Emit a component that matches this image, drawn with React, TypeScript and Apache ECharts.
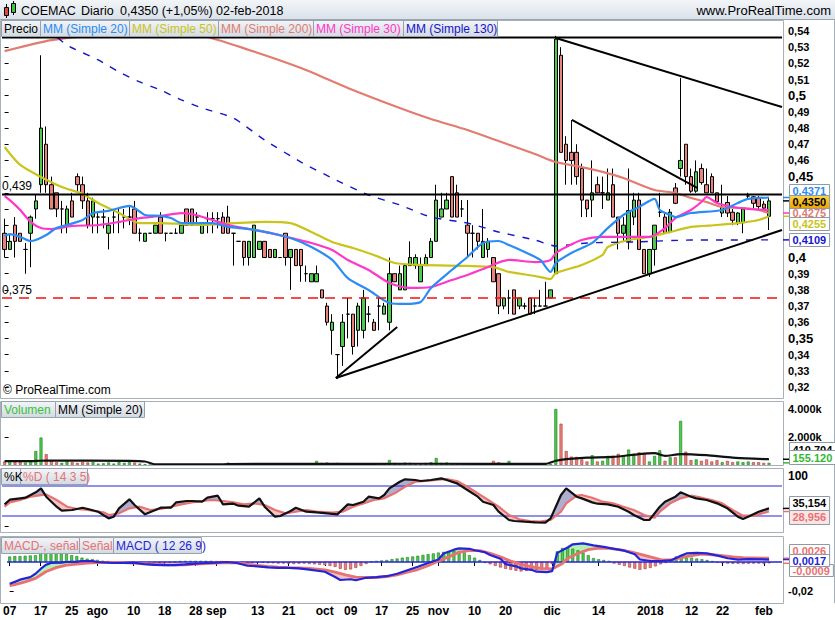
import React, { useEffect, useRef } from "react";
import * as echarts from "echarts";

const FONT = "'Liberation Sans', Arial, Helvetica, sans-serif";

// ---------- categories ----------
const FIRST_DAY = "2017-07-07";
const LAST_DAY = "2018-02-02";
const HOLIDAYS = ["2017-12-25", "2017-12-26", "2018-01-01"];
const EMPTY_SLOTS = 2;

const xTickDates = ["2017-07-07", "2017-07-17", "2017-07-25", "2017-08-01", "2017-08-10", "2017-08-18", "2017-08-28", "2017-09-01", "2017-09-13", "2017-09-21", "2017-10-02", "2017-10-09", "2017-10-17", "2017-10-25", "2017-11-01", "2017-11-10", "2017-11-20", "2017-12-01", "2017-12-14", "2018-01-02", "2018-01-12", "2018-01-22", "2018-02-01"];
const xTickLabels = ["07", "17", "25", "ago", "10", "18", "28", "sep", "13", "21", "oct", "09", "17", "25", "nov", "10", "20", "dic", "14", "2018", "12", "22", "feb"];

const priceTicks = [0.32, 0.33, 0.34, 0.35, 0.36, 0.37, 0.38, 0.39, 0.4, 0.41, 0.42, 0.43, 0.44, 0.45, 0.46, 0.47, 0.48, 0.49, 0.5, 0.51, 0.52, 0.53, 0.54];
const volumeTicks = [2000, 4000];
const stochTicks = [0, 100];
const macdTicks = [-0.02];

// ---------- price (open, high, low, close) ----------
const ohlc = [
  [0.415, 0.424, 0.4, 0.405], [0.405, 0.414, 0.405, 0.41], [0.42, 0.425, 0.4, 0.41], [0.415, 0.415, 0.41, 0.41], [0.405, 0.409, 0.39, 0.405],
  [0.415, 0.426, 0.394, 0.425], [0.43, 0.439, 0.424, 0.435], [0.445, 0.525, 0.44, 0.48], [0.47, 0.481, 0.44, 0.445], [0.445, 0.45, 0.43, 0.43],
  [0.44, 0.44, 0.425, 0.43], [0.43, 0.435, 0.415, 0.43], [0.42, 0.432, 0.415, 0.43], [0.435, 0.44, 0.425, 0.425], [0.45, 0.452, 0.44, 0.445],
  [0.445, 0.45, 0.43, 0.435], [0.435, 0.44, 0.418, 0.42], [0.425, 0.437, 0.415, 0.435], [0.425, 0.428, 0.415, 0.425], [0.425, 0.43, 0.418, 0.425],
  [0.415, 0.425, 0.405, 0.42], [0.425, 0.43, 0.415, 0.425], [0.422, 0.43, 0.415, 0.422], [0.425, 0.43, 0.418, 0.425], [0.425, 0.432, 0.42, 0.425],
  [0.43, 0.435, 0.415, 0.415], [0.415, 0.418, 0.41, 0.415], [0.41, 0.415, 0.41, 0.415], [0.415, 0.415, 0.415, 0.415], [0.415, 0.42, 0.415, 0.42],
  [0.425, 0.428, 0.415, 0.415], [0.415, 0.415, 0.41, 0.415], [0.415, 0.415, 0.415, 0.415], [0.415, 0.418, 0.415, 0.415], [0.415, 0.42, 0.415, 0.42],
  [0.43, 0.43, 0.42, 0.42], [0.43, 0.43, 0.42, 0.42], [0.425, 0.428, 0.42, 0.425], [0.415, 0.42, 0.415, 0.42], [0.424, 0.428, 0.415, 0.424],
  [0.424, 0.428, 0.415, 0.424], [0.424, 0.428, 0.418, 0.424], [0.425, 0.428, 0.415, 0.415], [0.425, 0.432, 0.415, 0.415], [0.415, 0.415, 0.395, 0.415],
  [0.41, 0.41, 0.41, 0.41], [0.41, 0.41, 0.395, 0.4], [0.4, 0.41, 0.395, 0.41], [0.4, 0.42, 0.4, 0.42], [0.405, 0.41, 0.405, 0.41],
  [0.41, 0.41, 0.4, 0.4], [0.405, 0.405, 0.4, 0.4], [0.4, 0.405, 0.4, 0.405], [0.4, 0.4, 0.4, 0.4], [0.415, 0.415, 0.395, 0.4],
  [0.4, 0.405, 0.38, 0.405], [0.405, 0.405, 0.395, 0.395], [0.405, 0.405, 0.385, 0.395], [0.39, 0.395, 0.385, 0.39], [0.385, 0.39, 0.385, 0.39],
  [0.385, 0.395, 0.385, 0.39], [0.38, 0.38, 0.375, 0.375], [0.37, 0.372, 0.358, 0.36], [0.355, 0.365, 0.34, 0.36], [0.34, 0.34, 0.325, 0.34],
  [0.345, 0.365, 0.333, 0.36], [0.365, 0.375, 0.35, 0.365], [0.365, 0.365, 0.34, 0.345], [0.355, 0.372, 0.345, 0.37], [0.355, 0.38, 0.35, 0.375],
  [0.365, 0.37, 0.36, 0.365], [0.36, 0.362, 0.355, 0.355], [0.37, 0.375, 0.355, 0.37], [0.365, 0.372, 0.365, 0.37], [0.36, 0.4, 0.355, 0.39],
  [0.39, 0.39, 0.385, 0.385], [0.38, 0.395, 0.38, 0.39], [0.38, 0.396, 0.38, 0.395], [0.395, 0.41, 0.395, 0.4], [0.395, 0.402, 0.393, 0.4],
  [0.385, 0.4, 0.385, 0.395], [0.395, 0.402, 0.395, 0.4], [0.4, 0.412, 0.4, 0.41], [0.41, 0.445, 0.41, 0.4355], [0.425, 0.44, 0.425, 0.43],
  [0.43, 0.44, 0.43, 0.4355], [0.45, 0.45, 0.425, 0.425], [0.44, 0.445, 0.425, 0.425], [0.43, 0.4355, 0.425, 0.43], [0.42, 0.4355, 0.4, 0.415],
  [0.415, 0.42, 0.4, 0.415], [0.415, 0.415, 0.405, 0.41], [0.4, 0.43, 0.4, 0.41], [0.405, 0.412, 0.4, 0.41], [0.4, 0.4, 0.385, 0.385],
  [0.39, 0.39, 0.365, 0.37], [0.37, 0.375, 0.368, 0.375], [0.375, 0.38, 0.365, 0.375], [0.38, 0.38, 0.365, 0.365], [0.37, 0.375, 0.368, 0.375],
  [0.37, 0.372, 0.368, 0.37], [0.375, 0.375, 0.365, 0.365], [0.37, 0.375, 0.365, 0.37], [0.37, 0.38, 0.37, 0.37], [0.37, 0.385, 0.37, 0.37],
  [0.375, 0.38, 0.375, 0.38], [0.39, 0.537, 0.39, 0.535], [0.525, 0.53, 0.465, 0.465], [0.47, 0.475, 0.445, 0.46], [0.465, 0.485, 0.445, 0.46],
  [0.465, 0.47, 0.445, 0.45], [0.455, 0.458, 0.425, 0.4355], [0.4355, 0.4355, 0.425, 0.43], [0.4355, 0.46, 0.425, 0.44], [0.445, 0.45, 0.44, 0.44],
  [0.44, 0.45, 0.43, 0.44], [0.4355, 0.455, 0.4355, 0.44], [0.445, 0.455, 0.425, 0.425], [0.425, 0.425, 0.405, 0.415], [0.415, 0.425, 0.41, 0.42],
  [0.41, 0.455, 0.405, 0.429], [0.425, 0.44, 0.42, 0.4355], [0.4355, 0.44, 0.405, 0.405], [0.405, 0.405, 0.39, 0.39], [0.39, 0.405, 0.388, 0.405],
  [0.405, 0.42, 0.395, 0.42], [0.428, 0.44, 0.425, 0.428], [0.425, 0.428, 0.415, 0.415], [0.416, 0.43, 0.415, 0.428], [0.443, 0.446, 0.433, 0.4335],
  [0.455, 0.511, 0.45, 0.46], [0.47, 0.47, 0.445, 0.45], [0.45, 0.455, 0.44, 0.441], [0.441, 0.46, 0.44, 0.453], [0.455, 0.458, 0.445, 0.4463],
  [0.445, 0.455, 0.44, 0.44], [0.45, 0.452, 0.44, 0.44], [0.44, 0.44, 0.4345, 0.4345], [0.4275, 0.445, 0.425, 0.431], [0.434, 0.438, 0.425, 0.4275],
  [0.428, 0.43, 0.42, 0.423], [0.4215, 0.428, 0.42, 0.4275], [0.4215, 0.43, 0.415, 0.43], [0.438, 0.44, 0.436, 0.438], [0.4375, 0.438, 0.43, 0.4335],
  [0.4365, 0.438, 0.43, 0.4315], [0.433, 0.435, 0.43, 0.4305], [0.4255, 0.437, 0.417, 0.435],
];

// moving averages: [bar index, price]
const ma20 = [[0, 0.4133], [1, 0.4145], [3, 0.4127], [5, 0.4102], [6, 0.4108], [8, 0.4139], [10, 0.4182], [12, 0.4201], [15, 0.4232], [17, 0.4275], [20, 0.4288], [22, 0.4306], [24, 0.4319], [25, 0.4306], [27, 0.4263], [30, 0.4257], [32, 0.4244], [34, 0.4213], [38, 0.4213], [40, 0.4213], [43, 0.4189], [47, 0.4176], [51, 0.4152], [55, 0.4121], [59, 0.4065], [63, 0.3985], [66, 0.3873], [70, 0.3799], [74, 0.3719], [77, 0.3713], [80, 0.3725], [82, 0.3812], [86, 0.3923], [89, 0.4003], [92, 0.409], [95, 0.4102], [97, 0.4077], [100, 0.4034], [103, 0.3985], [105, 0.3911], [106, 0.3966], [109, 0.4028], [113, 0.409], [116, 0.4182], [119, 0.4263], [122, 0.4312], [125, 0.4362], [126, 0.4294], [128, 0.4263], [129, 0.425], [132, 0.4275], [138, 0.4294], [141, 0.4337], [143, 0.4362], [147, 0.4371]];
const ma50 = [[0, 0.4683], [3, 0.4572], [7, 0.4498], [11, 0.4436], [15, 0.4393], [18, 0.4337], [22, 0.4275], [26, 0.4213], [30, 0.4213], [34, 0.4207], [38, 0.4201], [44, 0.4213], [50, 0.422], [55, 0.4213], [59, 0.4158], [63, 0.4096], [67, 0.4059], [71, 0.4016], [75, 0.3966], [80, 0.3954], [89, 0.3948], [94, 0.3941], [97, 0.3911], [102, 0.3886], [105, 0.3867], [106, 0.3904], [111, 0.3954], [115, 0.4016], [116, 0.4065], [120, 0.4108], [124, 0.4127], [128, 0.4158], [132, 0.4189], [137, 0.4201], [141, 0.4213], [145, 0.4232], [147, 0.4255]];
const ma200 = [[0, 0.5276], [9, 0.5344], [18, 0.5375], [28, 0.5388], [38, 0.5369], [47, 0.5283], [57, 0.5171], [66, 0.5048], [76, 0.4924], [82, 0.4856], [89, 0.4788], [95, 0.472], [102, 0.464], [106, 0.459], [111, 0.4559], [115, 0.4529], [119, 0.4491], [125, 0.4417], [129, 0.4399], [132, 0.4368], [135, 0.4343], [138, 0.4312], [142, 0.4306], [145, 0.4294], [147, 0.4275]];
const ma30 = [[0, 0.438], [1, 0.4355], [3, 0.4294], [5, 0.422], [7, 0.4182], [9, 0.4176], [13, 0.4195], [18, 0.4201], [22, 0.422], [26, 0.4244], [30, 0.4257], [34, 0.4275], [36, 0.4269], [40, 0.4232], [43, 0.4201], [47, 0.4176], [51, 0.4152], [55, 0.4121], [59, 0.409], [63, 0.4047], [66, 0.3985], [70, 0.3923], [74, 0.3843], [78, 0.3812], [82, 0.3818], [86, 0.3861], [89, 0.3892], [92, 0.3929], [97, 0.3985], [102, 0.3972], [105, 0.3985], [106, 0.4028], [108, 0.4065], [111, 0.4108], [115, 0.4127], [124, 0.4127], [127, 0.4182], [129, 0.4244], [132, 0.4294], [134, 0.4343], [135, 0.4374], [137, 0.4337], [140, 0.4312], [143, 0.43], [147, 0.4294]];
const ma130 = [[8, 0.5419], [12, 0.5313], [18, 0.5221], [22, 0.5147], [26, 0.5085], [30, 0.5035], [34, 0.4974], [38, 0.4924], [44, 0.4862], [50, 0.4726], [57, 0.459], [63, 0.4491], [70, 0.4386], [76, 0.4325], [82, 0.425], [89, 0.4213], [95, 0.4158], [102, 0.4108], [106, 0.4071], [112, 0.409], [121, 0.4096], [132, 0.4108], [138, 0.4108], [147, 0.4109]];

// drawn levels and trend lines [bar index, price]
const levelResistance = 0.439;
const levelTop = 0.536;
const levelSupport = 0.375;
const trendFanShort = [[63.7, 0.3255], [75.5, 0.3571]];
const trendSupport = [[63.7, 0.3255], [149.5, 0.417]];
const trendResistance = [[106, 0.5357], [149.5, 0.493]];
const trendInner = [[109.1, 0.485], [133.2, 0.443]];

// ---------- volume (thousands) ----------
const volumeK = [
  250, 220, 200, 230, 180, 300, 1000, 1960, 780, 290,
  200, 150, 250, 200, 150, 220, 180, 200, 100, 120,
  180, 100, 200, 150, 200, 170, 100, 60, 10, 5,
  10, 5, 0, 10, 15, 10, 5, 0, 10, 5,
  5, 5, 10, 170, 10, 5, 15, 10, 5, 10,
  5, 0, 10, 5, 10, 5, 10, 10, 5, 10,
  290, 150, 180, 120, 150, 30, 20, 10, 120, 30,
  20, 30, 20, 60, 360, 150, 120, 170, 160, 120,
  100, 150, 200, 500, 150, 180, 120, 100, 80, 120,
  60, 80, 100, 60, 290, 200, 80, 290, 60, 50,
  40, 60, 40, 30, 50, 80, 4000, 2950, 1000, 600,
  580, 400, 250, 700, 250, 300, 650, 650, 800, 650,
  1100, 800, 900, 800, 250, 650, 1050, 300, 550, 550,
  3150, 950, 350, 400, 300, 400, 250, 350, 200, 300,
  200, 250, 200, 250, 200, 200, 150, 155.12,
];
const volumeMA20 = [[0, 270], [5, 280], [8, 320], [24, 300], [27, 250], [29, 40], [41, 40], [43, 70], [60, 80], [80, 90], [104, 80], [106, 300], [108, 420], [112, 530], [117, 580], [122, 780], [125, 850], [127, 650], [130, 780], [135, 700], [140, 530], [147, 410.704]];

// ---------- stochastic ----------
const stochK = [[0, 43.3], [1, 52.6], [3, 55.3], [4, 56.6], [6, 67.3], [7, 75.3], [8, 58.6], [10, 38.6], [11, 30.6], [13, 32], [15, 36.6], [16, 34], [18, 28.6], [20, 15.3], [21, 18.6], [22, 35.3], [24, 53.3], [25, 42], [27, 23.3], [29, 32], [30, 36.6], [32, 36.6], [33, 47.3], [35, 50], [36, 50], [38, 48.6], [39, 56.6], [41, 60.6], [42, 43.3], [44, 44.6], [45, 40.6], [47, 38.6], [49, 55.3], [50, 38.6], [52, 18.6], [53, 20], [55, 30], [56, 36.6], [58, 28.6], [60, 27.3], [62, 25.3], [64, 23.3], [66, 43.3], [67, 42], [69, 48.6], [70, 58.6], [72, 55.3], [73, 62], [74, 75.3], [76, 88.6], [77, 93.3], [79, 92], [80, 90], [82, 92], [84, 95.3], [85, 92], [87, 85.3], [89, 72], [91, 58.6], [92, 48.6], [94, 42], [95, 28.6], [97, 12], [98, 10], [100, 8.6], [102, 7.3], [104, 6.6], [105, 15.3], [106, 38.6], [107, 62], [108, 75.3], [110, 58.6], [111, 55.3], [113, 47.3], [114, 44.6], [116, 43.3], [118, 38.6], [120, 28.6], [121, 22], [123, 12], [124, 12], [126, 38.6], [127, 48.6], [129, 58.6], [130, 67.3], [132, 58.6], [133, 55.3], [135, 52], [137, 45.3], [139, 35.3], [141, 18.6], [142, 14], [143, 18.6], [145, 28.6], [147, 35.154]];
const stochD = [[0, 38.6], [1, 47.3], [3, 52], [5, 58.6], [8, 63.3], [10, 52], [12, 38.6], [14, 34], [16, 32], [19, 27.3], [20, 22], [22, 25.3], [24, 35.3], [26, 38.6], [28, 32], [30, 34], [32, 38.6], [34, 43.3], [36, 47.3], [38, 50], [40, 52], [42, 50], [44, 47.3], [46, 43.3], [48, 45.3], [50, 42], [52, 32], [54, 25.3], [56, 28.6], [58, 32], [60, 28.6], [63, 26.6], [65, 28.6], [67, 38.6], [69, 45.3], [71, 52], [73, 55.3], [75, 65.3], [77, 78.6], [79, 88.6], [81, 90], [83, 92], [85, 94], [87, 90], [89, 78.6], [91, 65.3], [93, 52], [95, 38.6], [97, 22], [99, 13.3], [101, 10], [103, 8.6], [105, 12], [107, 28.6], [108, 45.3], [110, 60.6], [111, 62], [113, 56.6], [115, 48.6], [117, 45.3], [119, 38.6], [121, 32], [123, 22], [125, 16.6], [126, 28.6], [128, 45.3], [130, 55.3], [132, 60.6], [134, 56.6], [136, 52], [138, 45.3], [140, 32], [142, 20.6], [144, 20.6], [147, 28.956]];
const stochBands = [80, 20];

// ---------- MACD ----------
const macdLine = [[0, -0.015], [1, -0.0137], [2, -0.0122], [4, -0.0104], [5, -0.0081], [6, -0.0048], [7, -0.002], [8, -0.0007], [10, -0.0004], [11, 0], [13, 0.0002], [14, 0.0007], [16, 0.0006], [17, 0], [20, -0.0007], [22, -0.0007], [24, -0.0004], [26, -0.0015], [28, -0.002], [30, -0.0022], [32, -0.0022], [34, -0.0017], [36, -0.0011], [38, -0.0007], [40, -0.0004], [42, 0], [44, -0.0007], [46, -0.0026], [48, -0.003], [50, -0.0037], [52, -0.0041], [54, -0.0041], [56, -0.0044], [58, -0.0052], [61, -0.0067], [63, -0.0104], [64, -0.0124], [66, -0.0119], [67, -0.0126], [69, -0.0109], [71, -0.0104], [73, -0.0098], [75, -0.0081], [77, -0.0057], [79, -0.0033], [81, -0.0007], [83, 0.0017], [84, 0.0059], [86, 0.0085], [87, 0.0094], [89, 0.0091], [90, 0.0081], [92, 0.0067], [93, 0.0048], [95, 0.0022], [96, -0.0015], [98, -0.003], [99, -0.0044], [101, -0.0054], [102, -0.0067], [104, -0.007], [105, -0.0063], [106, 0.0063], [108, 0.01], [109, 0.0122], [111, 0.0128], [113, 0.0115], [115, 0.0104], [117, 0.0091], [119, 0.0078], [121, 0.0054], [122, 0.0017], [124, 0.0007], [126, 0.0007], [128, 0.0011], [130, 0.0044], [131, 0.0059], [133, 0.0063], [135, 0.0059], [137, 0.0044], [139, 0.0026], [141, 0.0017], [143, 0.002], [147, 0.0017]];
const signalLine = [[0, -0.0163], [1, -0.0156], [3, -0.0137], [5, -0.0113], [7, -0.0067], [9, -0.0039], [11, -0.0022], [13, -0.0015], [15, -0.0007], [17, -0.0004], [20, -0.0002], [22, -0.0004], [24, -0.0007], [26, -0.0011], [28, -0.0015], [30, -0.0019], [32, -0.002], [34, -0.0019], [36, -0.0015], [38, -0.0011], [40, -0.0007], [42, -0.0004], [44, -0.0006], [46, -0.0015], [48, -0.0024], [50, -0.003], [52, -0.0035], [54, -0.0039], [56, -0.0041], [58, -0.0044], [61, -0.0054], [63, -0.007], [65, -0.0089], [67, -0.0104], [69, -0.0107], [71, -0.0107], [73, -0.01], [75, -0.0089], [77, -0.007], [79, -0.0052], [81, -0.0026], [83, 0.0007], [85, 0.0035], [87, 0.0067], [89, 0.0081], [91, 0.0078], [93, 0.0059], [95, 0.0035], [97, 0.0007], [99, -0.0015], [101, -0.0033], [103, -0.0044], [105, -0.0048], [107, -0.0011], [108, 0.0026], [110, 0.0059], [112, 0.0085], [114, 0.0096], [116, 0.0094], [118, 0.0085], [120, 0.0072], [122, 0.0054], [124, 0.0035], [126, 0.0017], [128, 0.0015], [130, 0.003], [132, 0.0044], [134, 0.0054], [136, 0.005], [138, 0.0044], [140, 0.0035], [142, 0.003], [147, 0.0026]];
// histogram MACD - signal, in units of 0.0001
const macdHist = [
  38, 41, 41, 43, 45, 47, 80, 97, 90, 73,
  59, 55, 47, 41, 30, 23, 20, 15, 9, 7,
  4, 3, 1, 0, -5, -7, -8, -8, -7, -7,
  -5, -4, 0, 7, 8, 8, 8, 8, 8, 8,
  7, 7, 5, 0, -5, -8, -8, -7, -5, -4,
  -8, -9, -11, -11, -12, -14, -12, -11, -14, -16,
  -19, -22, -27, -34, -47, -54, -51, -41, -27, -14,
  5, 8, 11, 14, 20, 24, 30, 34, 38, 43,
  49, 54, 59, 65, 70, 74, 78, 76, 68, 47,
  30, 14, -7, -16, -27, -38, -47, -54, -61, -65,
  -62, -59, -54, -51, -41, -14, 74, 97, 101, 92,
  81, 65, 47, 27, 19, 14, 8, -11, -19, -27,
  -38, -46, -54, -49, -41, -30, -16, -7, 7, 38,
  35, 32, 30, 24, 19, 14, 7, -5, -8, -11,
  -12, -12, -14, -12, -11, -11, -12, -9,
];

// ---------- colours ----------
const C_UP = "#4ccb4c";
const C_DOWN = "#e8837c";
const C_MA20 = "#2a8cf4";
const C_MA50 = "#c9c41c";
const C_MA200 = "#e27b70";
const C_MA30 = "#ff37c8";
const C_MA130 = "#1515cc";
const C_SALMON = "#e87272";
const C_BLUE = "#2424d8";
const C_FRAME = "#a7b0b9";

function tradingDays() {
  const out: string[] = [];
  const d = new Date(FIRST_DAY + "T00:00:00Z");
  const end = new Date(LAST_DAY + "T00:00:00Z");
  while (d.getTime() <= end.getTime()) {
    const s = d.toISOString().slice(0, 10);
    const wd = d.getUTCDay();
    if (wd !== 0 && wd !== 6 && HOLIDAYS.indexOf(s) < 0) out.push(s);
    d.setUTCDate(d.getUTCDate() + 1);
  }
  return out;
}

const comma = (s: string) => s.replace(".", ",");
const fmtAxisPrice = (v: number) => comma(String(+v.toFixed(2)));

function fillRenderer(a: number[][], b: number[][], colAbove: string, colBelow: string) {
  return (params: any, api: any) => {
    const pa = a.map((p) => api.coord(p));
    const pb = b.map((p) => api.coord(p));
    const interp = (pts: number[][], x: number) => {
      for (let k = 1; k < pts.length; k++) {
        if (x <= pts[k][0]) {
          const x0 = pts[k - 1][0], y0 = pts[k - 1][1], x1 = pts[k][0], y1 = pts[k][1];
          const t = x1 === x0 ? 0 : (x - x0) / (x1 - x0);
          return y0 + t * (y1 - y0);
        }
      }
      return pts[pts.length - 1][1];
    };
    const xs = Math.max(pa[0][0], pb[0][0]);
    const xe = Math.min(pa[pa.length - 1][0], pb[pb.length - 1][0]);
    const segs: any[] = [];
    let cur: any = null;
    for (let x = xs; x <= xe + 0.5; x += 1) {
      const xx = Math.min(x, xe);
      const ya = interp(pa, xx), yb = interp(pb, xx);
      const s = ya <= yb ? 1 : -1;
      if (!cur || cur.s !== s) {
        const mid = [xx, (ya + yb) / 2];
        if (cur) { cur.top.push(mid); segs.push(cur); }
        cur = { s, top: [mid], bot: [] };
      }
      cur.top.push([xx, ya]);
      cur.bot.push([xx, yb]);
    }
    if (cur) segs.push(cur);
    return {
      type: "group",
      children: segs.map((sg) => ({
        type: "polygon",
        shape: { points: sg.top.concat(sg.bot.slice().reverse()) },
        style: { fill: sg.s > 0 ? colAbove : colBelow },
        silent: true,
      })),
    };
  };
}

const priceLabelFormatter = (v: number) => {
  const s = fmtAxisPrice(v);
  return Math.round(v * 100) % 5 === 0 ? `{b|${s}}` : `{n|${s}}`;
};

function buildOption(dates: string[]) {
  const cats = dates.concat(Array(EMPTY_SLOTS).fill(""));
  const nSlots = cats.length;
  const vmin = -0.5, vmax = nSlots - 0.5;
  const tickIdx = new Map<number, string>();
  xTickDates.forEach((d, k) => {
    const i = dates.indexOf(d);
    if (i >= 0) tickIdx.set(i, xTickLabels[k]);
  });

  const grids = [
    { left: 2, width: 780, top: 14.82, height: 388.32 },
    { left: 2, width: 780, top: 401, height: 64 },
    { left: 2, width: 780, top: 468, height: 64 },
    { left: 2, width: 780, top: 536, height: 67 },
  ];

  const xAxis: any[] = [];
  for (let g = 0; g < 4; g++) {
    xAxis.push({
      type: "category", gridIndex: g, data: cats, boundaryGap: true, show: g === 3,
      axisLine: { show: false }, splitLine: { show: false },
      axisTick: { show: g === 3, interval: (i: number) => tickIdx.has(i), alignWithLabel: true, length: 4, lineStyle: { color: "#000" } },
      axisLabel: {
        show: g === 3, interval: (i: number) => tickIdx.has(i),
        formatter: (_v: string, i: number) => tickIdx.get(i) || "",
        fontFamily: FONT, fontSize: 12, fontWeight: "bold", color: "#000", margin: 2,
      },
    });
  }
  for (let g = 0; g < 4; g++) xAxis.push({ type: "value", gridIndex: g, min: vmin, max: vmax, show: false });

  const yBase = (g: number, min: number, max: number, ticks: number[], fmt: any, extra: any = {}) => ({
    type: "value", gridIndex: g, position: "right", min, max, offset: 4, scale: true,
    splitLine: { show: false }, axisLine: { show: false },
    axisTick: { show: true, length: 4, customValues: ticks, lineStyle: { color: "#000" } },
    axisLabel: { customValues: ticks, formatter: fmt, margin: 2, fontFamily: FONT, fontSize: 11, fontWeight: "bold", color: "#000", ...extra },
  });

  const yAxis = [
    yBase(0, 0.31, 0.55, priceTicks, priceLabelFormatter, {
      rich: {
        b: { fontFamily: FONT, fontSize: 13, fontWeight: "bold", color: "#000" },
        n: { fontFamily: FONT, fontSize: 11, fontWeight: "bold", color: "#000" },
      },
    }),
    yBase(1, 0, 4571, volumeTicks, (v: number) => `${Math.round(v / 1000)}.000k`),
    yBase(2, -12, 116, stochTicks, (v: number) => String(v), { fontSize: 12 }),
    // zero line at y=562, 1450 px per unit
    yBase(3, -0.028276, 0.017931, macdTicks, (v: number) => comma(String(v)), { fontSize: 11 }),
  ];

  const line = (xi: number, yi: number, data: any[], color: string, width: number, type: any = "solid", smooth: any = false, z = 3) => ({
    type: "line", xAxisIndex: xi, yAxisIndex: yi, data, showSymbol: false, symbol: "none", smooth,
    lineStyle: { color, width, type }, silent: true, z,
  });

  const isUp = (c: number[]) => c[3] >= c[0];

  const series: any[] = [
    {
      type: "candlestick", xAxisIndex: 0, yAxisIndex: 0, barWidth: 4, z: 2,
      data: ohlc.map((c) => [c[0], c[3], c[2], c[1]]),
      itemStyle: { color: C_UP, color0: C_DOWN, borderColor: "#000", borderColor0: "#000", borderWidth: 1 },
    },
    line(4, 0, ma200, C_MA200, 2.2, "solid", 0.25),
    line(4, 0, ma50, C_MA50, 2.2, "solid", 0.25),
    line(4, 0, ma130, C_MA130, 1.4, [7, 8], 0.2),
    line(4, 0, ma30, C_MA30, 2.2, "solid", 0.25),
    line(4, 0, ma20, C_MA20, 2.2, "solid", 0.25),
    line(4, 0, [[vmin, levelResistance], [vmax, levelResistance]], "#000", 2, "solid", false, 4),
    line(4, 0, [[vmin, levelTop], [vmax, levelTop]], "#000", 2, "solid", false, 4),
    line(4, 0, [[vmin, levelSupport], [vmax, levelSupport]], "#f21010", 1.5, [10, 7], false, 4),
    line(4, 0, trendFanShort, "#000", 2, "solid", false, 4),
    line(4, 0, trendSupport, "#000", 2, "solid", false, 4),
    line(4, 0, trendResistance, "#000", 2, "solid", false, 4),
    line(4, 0, trendInner, "#000", 2, "solid", false, 4),
    // volume
    {
      type: "bar", xAxisIndex: 1, yAxisIndex: 1, barWidth: 3, z: 2, silent: true,
      data: volumeK.map((v, i) => ({
        value: v,
        itemStyle: { color: isUp(ohlc[i]) ? C_UP : C_DOWN, borderColor: isUp(ohlc[i]) ? "#1f7a1f" : "#a83a34", borderWidth: 0.6 },
      })),
    },
    line(5, 1, volumeMA20, "#111", 2.2, "solid", 0.2),
    // stochastic
    { type: "custom", xAxisIndex: 6, yAxisIndex: 2, data: [[0, 0]], encode: { x: 0, y: 1 }, silent: true, z: 1, renderItem: fillRenderer(stochK, stochD, "rgba(160,160,200,0.85)", "rgba(245,190,190,0.9)") },
    line(6, 2, [[vmin, stochBands[0]], [vmax, stochBands[0]]], C_BLUE, 1.2),
    line(6, 2, [[vmin, stochBands[1]], [vmax, stochBands[1]]], C_BLUE, 1.2),
    line(6, 2, stochD, C_SALMON, 2.2),
    line(6, 2, stochK, "#111", 2.2),
    // MACD
    { type: "custom", xAxisIndex: 7, yAxisIndex: 3, data: [[0, 0]], encode: { x: 0, y: 1 }, silent: true, z: 1, renderItem: fillRenderer(macdLine, signalLine, "rgba(175,240,175,0.95)", "rgba(245,190,190,0.95)") },
    {
      type: "bar", xAxisIndex: 3, yAxisIndex: 3, barWidth: 3, z: 2, silent: true,
      data: macdHist.map((v) => ({
        value: v / 10000,
        itemStyle: { color: v >= 0 ? C_UP : C_DOWN, borderColor: v >= 0 ? "#1f7a1f" : "#a83a34", borderWidth: 0.6 },
      })),
    },
    line(7, 3, [[vmin, 0], [vmax, 0]], C_BLUE, 1.3),
    line(7, 3, signalLine, C_SALMON, 2.8),
    line(7, 3, macdLine, C_BLUE, 2.2),
  ];

  return {
    animation: false,
    backgroundColor: "#ffffff",
    textStyle: { fontFamily: FONT },
    grid: grids,
    xAxis,
    yAxis,
    series,
  };
}

const grad = (a: string, b: string) =>
  new echarts.graphic.LinearGradient(0, 0, 0, 1, [{ offset: 0, color: a }, { offset: 1, color: b }]);

function legendBox(x: number, y: number, w: number, h: number, text: string, color: string) {
  return [
    { type: "rect", z: 100, shape: { x: x + 0.5, y: y + 0.5, width: w, height: h }, style: { fill: grad("#f3f5f8", "#d3dae2"), stroke: "#97a2ad", lineWidth: 1 } },
    { type: "text", z: 101, x: x + 3, y: y + h / 2 + 1, style: { text, fill: color, font: `12px ${FONT}`, verticalAlign: "middle" } },
  ];
}

const textWidth = (s: string) => {
  let w = 0;
  for (const ch of s) w += /[0-9]/.test(ch) ? 6.2 : ch === "," || ch === "." ? 3.1 : ch === "-" ? 3.8 : 6.6;
  return w;
};

type Tag = { v: number; text: string; color: string; fill?: any; tick?: string; top?: boolean };

// places value tags at the right of a panel; sep = minimal distance between tag centres
function valueTags(chart: any, yIdx: number, tags: Tag[], sep: number, boxH: number, lo: number, hi: number, covered: number[][]) {
  const items = tags.map((t) => ({ ...t, y0: chart.convertToPixel({ yAxisIndex: yIdx }, t.v) as number, cy: 0 }));
  items.forEach((it) => (it.cy = it.y0));
  const order = items.slice().sort((p, q) => p.cy - q.cy);
  for (let it = 0; it < 60; it++) {
    for (let k = 1; k < order.length; k++) {
      const gap = order[k].cy - order[k - 1].cy;
      if (gap < sep) {
        const d = (sep - gap) / 2;
        order[k].cy += d;
        order[k - 1].cy -= d;
      }
    }
  }
  const maxC = hi - boxH / 2 - 1, minC = lo + boxH / 2 + 1;
  const last = order[order.length - 1];
  if (last.cy > maxC) { const s = last.cy - maxC; order.forEach((o) => (o.cy -= s)); }
  if (order[0].cy < minC) { const s = minC - order[0].cy; order.forEach((o) => (o.cy += s)); }
  const out: any[] = [];
  const draw = items.filter((t) => !t.top).concat(items.filter((t) => t.top));
  draw.forEach((t, k) => {
    const w = textWidth(t.text) + 6;
    const top = Math.round(t.cy - boxH / 2) + 0.5;
    covered.push([top, top + boxH]);
    out.push({ type: "line", z: 100, shape: { x1: 783, y1: t.y0, x2: 790, y2: t.y0 }, style: { stroke: t.tick || t.color, lineWidth: 1.5 } });
    out.push({ type: "rect", z: 102 + 2 * k, shape: { x: 789.5, y: top, width: w, height: boxH }, style: { fill: t.fill || "#fff", stroke: "#8e9aa6", lineWidth: 1 } });
    out.push({ type: "text", z: 103 + 2 * k, x: 792.5, y: t.cy + 0.5, style: { text: t.text, fill: t.color, font: `bold 11px ${FONT}`, verticalAlign: "middle" } });
  });
  return out;
}

function buildGraphics(chart: any) {
  const g: any[] = [];
  const covered: number[][][] = [[], [], [], []];
  // panel frames
  const frame = (y1: number, y2: number) => ({ type: "rect", z: 90, shape: { x: 0.5, y: y1 + 0.5, width: 783, height: y2 - y1 }, style: { fill: "none", stroke: C_FRAME, lineWidth: 1 } });
  g.push(frame(20, 398), frame(401, 465), frame(468, 532), frame(536, 603));
  g.push({ type: "line", z: 90, shape: { x1: 834.5, y1: 20, x2: 834.5, y2: 603 }, style: { stroke: C_FRAME, lineWidth: 1 } });

  // header
  g.push({ type: "rect", z: 100, shape: { x: 0, y: 0, width: 835, height: 20 }, style: { fill: grad("#f2f5f8", "#d9e1e9") } });
  g.push({ type: "line", z: 100, shape: { x1: 0, y1: 19.5, x2: 835, y2: 19.5 }, style: { stroke: "#9aa5b0", lineWidth: 1 } });
  // icon
  g.push({ type: "line", z: 101, shape: { x1: 6.5, y1: 4, x2: 6.5, y2: 18 }, style: { stroke: "#000", lineWidth: 1 } });
  g.push({ type: "rect", z: 102, shape: { x: 4.5, y: 7.5, width: 4, height: 8 }, style: { fill: "#e0483e", stroke: "#000", lineWidth: 1 } });
  g.push({ type: "line", z: 101, shape: { x1: 13.5, y1: 1, x2: 13.5, y2: 15 }, style: { stroke: "#000", lineWidth: 1 } });
  g.push({ type: "rect", z: 102, shape: { x: 11.5, y: 3.5, width: 4, height: 9 }, style: { fill: "#3fc43f", stroke: "#000", lineWidth: 1 } });
  const hdr = (x: number, text: string, align = "left", size = 12.5) => ({ type: "text", z: 101, x, y: 10.5, style: { text, fill: "#000", font: `${size}px ${FONT}`, verticalAlign: "middle", align } });
  g.push(hdr(21, "COEMAC"), hdr(81, "Diario"), hdr(120, "0,4350 (+1,05%)"), hdr(216, "02-feb-2018"), hdr(831, "www.ProRealTime.com", "right", 13));

  // legends
  const lg: [number, number, string, string][] = [
    [1, 39, "Precio", "#000"], [40, 89, "MM (Simple 20)", C_MA20], [129, 89, "MM (Simple 50)", C_MA50],
    [218, 95, "MM (Simple 200)", C_MA200], [313, 90, "MM (Simple 30)", C_MA30], [403, 94, "MM (Simple 130)", C_MA130],
  ];
  lg.forEach(([x, w, t, c]) => g.push(...legendBox(x, 20, w, 16, t, c)));
  g.push(...legendBox(1, 401, 54, 16, "Volumen", "#39c239"), ...legendBox(55, 401, 89, 16, "MM (Simple 20)", "#000"));
  g.push(...legendBox(1, 468, 19, 16, "%K", "#000"), ...legendBox(20, 468, 67, 16, "%D ( 14 3 5)", C_SALMON));
  g.push(...legendBox(1, 537, 78, 16, "MACD-, señal", C_SALMON), ...legendBox(79, 537, 34, 16, "Señal", C_SALMON), ...legendBox(113, 537, 88, 16, "MACD ( 12 26 9)", C_BLUE));

  // texts inside main panel
  const yRes = chart.convertToPixel({ yAxisIndex: 0 }, levelResistance);
  const ySup = chart.convertToPixel({ yAxisIndex: 0 }, levelSupport);
  g.push({ type: "text", z: 95, x: 2, y: yRes - 2, style: { text: comma(String(levelResistance)), fill: "#000", font: `12px ${FONT}`, verticalAlign: "bottom" } });
  g.push({ type: "text", z: 95, x: 2, y: ySup - 2, style: { text: comma(String(levelSupport)), fill: "#000", font: `12px ${FONT}`, verticalAlign: "bottom" } });
  g.push({ type: "text", z: 95, x: 3, y: 390, style: { text: "© ProRealTime.com", fill: "#000", font: `12px ${FONT}`, verticalAlign: "middle" } });

  // right-side value tags
  const lastClose = ohlc[ohlc.length - 1][3];
  const lastOf = (a: number[][]) => a[a.length - 1][1];
  g.push(...valueTags(chart, 0, [
    { v: lastOf(ma20), text: comma(lastOf(ma20).toFixed(4)), color: C_MA20 },
    { v: lastOf(ma200), text: comma(lastOf(ma200).toFixed(4)), color: C_MA200, tick: C_MA30 },
    { v: lastOf(ma50), text: comma(lastOf(ma50).toFixed(4)), color: C_MA50 },
    { v: lastOf(ma130), text: comma(lastOf(ma130).toFixed(4)), color: C_MA130 },
    { v: lastClose, text: comma(lastClose.toFixed(4)), color: "#000", fill: grad("#ffd24a", "#e8a400"), top: true },
  ], 11, 13, 20, 398, covered[0]));
  const volLast = volumeK[volumeK.length - 1];
  const vmaLast = lastOf(volumeMA20);
  const fmtVol = (k: number) => { const n = Math.round(k * 1000); return `${Math.floor(n / 1000)}.${String(n % 1000).padStart(3, "0")}`; };
  g.push(...valueTags(chart, 1, [
    { v: vmaLast, text: fmtVol(vmaLast), color: "#000" },
    { v: volLast, text: fmtVol(volLast), color: "#33b833", top: true },
  ], 8, 14, 401, 465, covered[1]));
  g.push(...valueTags(chart, 2, [
    { v: lastOf(stochK), text: comma(lastOf(stochK).toFixed(3)), color: "#000" },
    { v: lastOf(stochD), text: comma(lastOf(stochD).toFixed(3)), color: C_SALMON, fill: "#fbe4e4" },
  ], 14, 14, 468, 532, covered[2]));
  const histLast = macdHist[macdHist.length - 1] / 10000;
  g.push(...valueTags(chart, 3, [
    { v: lastOf(signalLine), text: comma(lastOf(signalLine).toFixed(4)), color: C_SALMON },
    { v: histLast, text: comma(histLast.toFixed(4)), color: C_SALMON },
    { v: lastOf(macdLine), text: comma(lastOf(macdLine).toFixed(4)), color: C_BLUE, top: true },
  ], 10, 12, 536, 603, covered[3]));
  return { elements: g, covered };
}

export default function App() {
  const ref = useRef<HTMLDivElement>(null);
  useEffect(() => {
    if (!ref.current) return;
    const chart = echarts.init(ref.current, null, { renderer: "svg" });
    const dates = tradingDays();
    chart.setOption(buildOption(dates));
    const { elements, covered } = buildGraphics(chart);
    // axis labels hidden behind the value tags are not drawn
    const visible = (yIdx: number, ticks: number[]) =>
      ticks.filter((t) => {
        const y = chart.convertToPixel({ yAxisIndex: yIdx }, t);
        return !covered[yIdx].some(([a, b]) => y > a - 5 && y < b + 5);
      });
    chart.setOption({
      graphic: { elements },
      yAxis: [
        { axisLabel: { customValues: visible(0, priceTicks) } },
        { axisLabel: { customValues: visible(1, volumeTicks) } },
        { axisLabel: { customValues: visible(2, stochTicks) } },
        { axisLabel: { customValues: visible(3, macdTicks) } },
      ],
    });
    return () => chart.dispose();
  }, []);
  return <div ref={ref} style={{ position: "fixed", left: 0, top: 0, width: 835, height: 620 }} />;
}
